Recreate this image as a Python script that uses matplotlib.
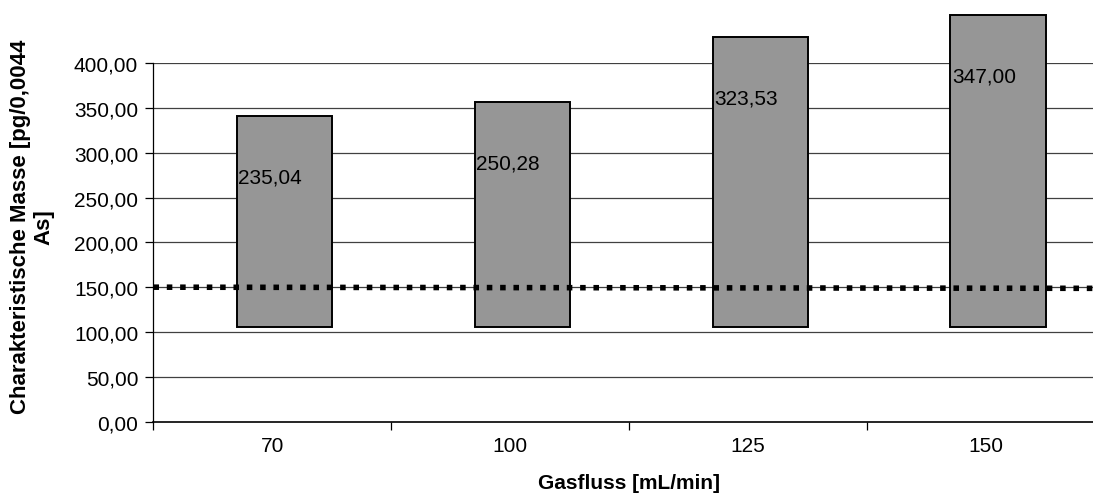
import matplotlib
matplotlib.use("Agg")
import matplotlib.pyplot as plt
from matplotlib.ticker import FixedLocator, FuncFormatter

plt.rcParams['font.family'] = ['Liberation Sans', 'DejaVu Sans']

# Gas flow settings and characteristic mass per setting
categories = ["70", "100", "125", "150"]
char_mass = [235.04, 250.28, 323.53, 347.00]
bar_base = 106.0

# Reference level drawn across the chart
target_x = [-0.5, 3.5]
target_mass = [150.0, 148.7]

y_ticks = [0, 50, 100, 150, 200, 250, 300, 350, 400]

fig = plt.figure(figsize=(10.93, 5.02), dpi=100)
ax = fig.add_axes([0.1404, 0.158, 0.8706, 0.7145])

x = list(range(len(categories)))
shift = 0.05
width = 0.40

ax.set_xlim(-0.5, len(categories) - 0.5)
ax.set_ylim(0, 400)

# gridlines
for t in y_ticks[1:]:
    ax.axhline(t, color="#404040", lw=0.9, zorder=1)

bars = ax.bar([i + shift for i in x], char_mass, width=width, bottom=bar_base,
              color="#969696", edgecolor="black", linewidth=1.4,
              zorder=2, clip_on=False)

for i, v in enumerate(char_mass):
    ax.text(i + shift - width / 2 + 0.006, bar_base + v - 68,
            f"{v:.2f}".replace(".", ","), ha="left", va="center",
            fontsize=15, color="black", zorder=4)

ax.plot(target_x, target_mass, color="black", lw=4.0, dashes=(1.0, 1.4),
        solid_capstyle="butt", dash_capstyle="butt", zorder=3, clip_on=False)

# axes styling
for s in ["top", "right"]:
    ax.spines[s].set_visible(False)
ax.spines["left"].set_linewidth(0.9)
ax.spines["bottom"].set_linewidth(1.2)

ax.yaxis.set_major_locator(FixedLocator(y_ticks))
ax.yaxis.set_major_formatter(FuncFormatter(lambda v, p: f"{v:.2f}".replace(".", ",")))
ax.tick_params(axis="y", direction="out", length=6, width=0.9, pad=5,
               labelsize=15)

ax.set_xticks([i - 0.5 for i in range(len(categories) + 1)])
ax.set_xticklabels([])
ax.set_xticks(x, minor=True)
ax.set_xticklabels(categories, minor=True)
ax.tick_params(axis="x", which="major", direction="out", length=6, width=0.9)
ax.tick_params(axis="x", which="minor", length=0, pad=10, labelsize=15)

ax.set_xlabel("Gasfluss [mL/min]", fontsize=15, fontweight="bold", labelpad=13)
ax.set_ylabel("Charakteristische Masse [pg/0,0044\nAs]", fontsize=16,
              fontweight="bold", linespacing=1.15)
ax.yaxis.set_label_coords(-0.104, 0.545)

fig.savefig("out.png", dpi=100)
